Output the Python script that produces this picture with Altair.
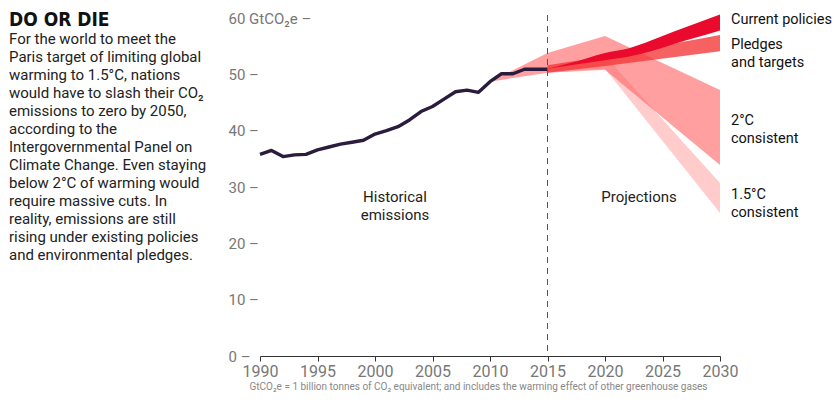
import altair as alt
import pandas as pd

# ---------------- data ----------------
hist_years = list(range(1990, 2016))
hist_values = [35.8, 36.5, 35.4, 35.7, 35.8, 36.6, 37.1, 37.6, 37.95, 38.3,
               39.4, 40.0, 40.7, 41.9, 43.4, 44.3, 45.6, 46.9, 47.2, 46.8,
               48.7, 50.1, 50.1, 50.9, 50.9, 50.9]

two_years = [2010, 2015, 2020, 2030]
two_low = [48.7, 50.3, 50.8, 33.9]
two_high = [48.7, 53.8, 56.8, 47.2]

onefive_years = [2015, 2020, 2030]
onefive_low = [50.6, 51.0, 25.4]
onefive_high = [51.2, 53.3, 30.7]

pledge_years = [2015, 2020, 2030]
pledge_low = [50.3, 51.5, 54.1]
pledge_high = [51.6, 53.2, 57.0]

current_years = [2015, 2017, 2020, 2022, 2024, 2026, 2028, 2030]
current_low = [51.0, 51.6, 52.5, 53.1, 54.1, 55.4, 56.6, 57.8]
current_high = [51.0, 52.0, 53.8, 54.6, 56.0, 57.6, 59.1, 60.6]

x_ticks = [1990, 1995, 2000, 2005, 2010, 2015, 2020, 2025, 2030]
y_ticks = [0, 10, 20, 30, 40, 50, 60]

title_text = "DO OR DIE"
body_lines = [
    "For the world to meet the",
    "Paris target of limiting global",
    "warming to 1.5°C, nations",
    "would have to slash their CO₂",
    "emissions to zero by 2050,",
    "according to the",
    "Intergovernmental Panel on",
    "Climate Change. Even staying",
    "below 2°C of warming would",
    "require massive cuts. In",
    "reality, emissions are still",
    "rising under existing policies",
    "and environmental pledges.",
]
series_labels = ["Current policies", "Pledges\nand targets", "2°C\nconsistent", "1.5°C\nconsistent"]
region_labels = ["Historical\nemissions", "Projections"]
footnote = "GtCO₂e = 1 billion tonnes of CO₂ equivalent; and includes the warming effect of other greenhouse gases"

# ---------------- layout helpers (pixel layout of reference -> data space) ----------------
PLOT_LEFT, PLOT_W, PLOT_BOTTOM, PLOT_H = 260, 460, 356, 338


def px_year(px):
    return 1990 + (px - PLOT_LEFT) * 40 / PLOT_W


def py_val(py):
    return (PLOT_BOTTOM - py) * 60 / PLOT_H


xs = alt.Scale(domain=[1990, 2030], nice=False, zero=False)
ys = alt.Scale(domain=[0, 60], nice=False, zero=False)

x_axis = alt.Axis(values=x_ticks, format="d", grid=False, labelColor="#777",
                  labelFontSize=16, labelFont="Roboto", domainColor="#333",
                  tickColor="#333", tickSize=5, labelPadding=2, labelFlush=False,
                  labelOverlap=False,
                  title=footnote, titleFontSize=10, titleFont="Roboto",
                  titleColor="#888", titleFontWeight="normal", titlePadding=2,
                  titleX=218)
y_axis = alt.Axis(values=y_ticks, grid=False, ticks=False, domain=False,
                  labelAlign="left", labelPadding=32, labelBaseline="middle",
                  labelColor="#777", labelFontSize=15, labelFont="Roboto",
                  labelExpr="datum.value == 60 ? '60 GtCO₂e  –' : datum.label + ' –'",
                  title=None)


def X(field):
    return alt.X(field, type="quantitative", scale=xs, axis=x_axis)


def Y(field):
    return alt.Y(field, type="quantitative", scale=ys, axis=y_axis)


def band(years, low, high, color, opacity, interp="linear"):
    df = pd.DataFrame({"x": years, "lo": low, "hi": high})
    return alt.Chart(df).mark_area(color=color, opacity=opacity, interpolate=interp).encode(
        x=X("x"), y=Y("lo"), y2="hi")


two_band = band(two_years, two_low, two_high, "#ff6b6b", 0.65)
onefive_band = band(onefive_years, onefive_low, onefive_high, "#ff6b6b", 0.35)
pledge_band = band(pledge_years, pledge_low, pledge_high, "#f43a3a", 0.8)
current_band = band(current_years, current_low, current_high, "#ea0a2e", 1.0, "monotone")

hist_line = alt.Chart(pd.DataFrame({"x": hist_years, "y": hist_values})).mark_line(
    color="#2b1b3d", strokeWidth=3.4, strokeJoin="round").encode(x=X("x"), y=Y("y"))

rule = alt.Chart(pd.DataFrame({"x": [2015], "y": [py_val(15)], "y2": [0]})).mark_rule(
    color="#555", strokeDash=[6, 5], strokeWidth=1).encode(x=X("x"), y=Y("y"), y2="y2")

# annotation texts (y = centre of the first line)
series_df = pd.DataFrame({
    "x": [px_year(731)] * 4,
    "y": [py_val(20), py_val(45), py_val(121), py_val(195)],
    "t": series_labels,
})
series_text = alt.Chart(series_df).mark_text(
    align="left", baseline="middle", lineBreak="\n", lineHeight=18,
    fontSize=14.5, font="Roboto", color="#111").encode(x=X("x"), y=Y("y"), text="t:N")

region_df = pd.DataFrame({
    "x": [px_year(395), px_year(639)],
    "y": [py_val(197), py_val(197)],
    "t": region_labels,
})
region_text = alt.Chart(region_df).mark_text(
    align="center", baseline="middle", lineBreak="\n", lineHeight=18,
    fontSize=15, font="Roboto", color="#222").encode(x=X("x"), y=Y("y"), text="t:N")

body_df = pd.DataFrame({"x": [px_year(9)], "y": [py_val(38.5)], "t": ["\n".join(body_lines)]})
body_text = alt.Chart(body_df).mark_text(
    align="left", baseline="middle", lineBreak="\n", lineHeight=18,
    fontSize=15, font="Roboto", color="#222").encode(x=X("x"), y=Y("y"), text="t:N")

title_df = pd.DataFrame({"x": [px_year(9)], "y": [py_val(19.5)], "t": [title_text]})
title_mark = alt.Chart(title_df).mark_text(
    align="left", baseline="middle", fontSize=19, font="DejaVu Sans Condensed",
    fontWeight="bold", color="#111").encode(x=X("x"), y=Y("y"), text="t:N")

chart = alt.layer(
    two_band, onefive_band, pledge_band, current_band, hist_line, rule,
    series_text, region_text, body_text, title_mark,
).properties(
    width=PLOT_W, height=PLOT_H,
    autosize=alt.AutoSizeParams(type="none"),
    padding={"left": 252, "top": 10, "right": 112, "bottom": 37},
    background="white",
).configure_view(stroke=None)

chart.save("out.html", embed_options={"renderer": "svg", "actions": False})
